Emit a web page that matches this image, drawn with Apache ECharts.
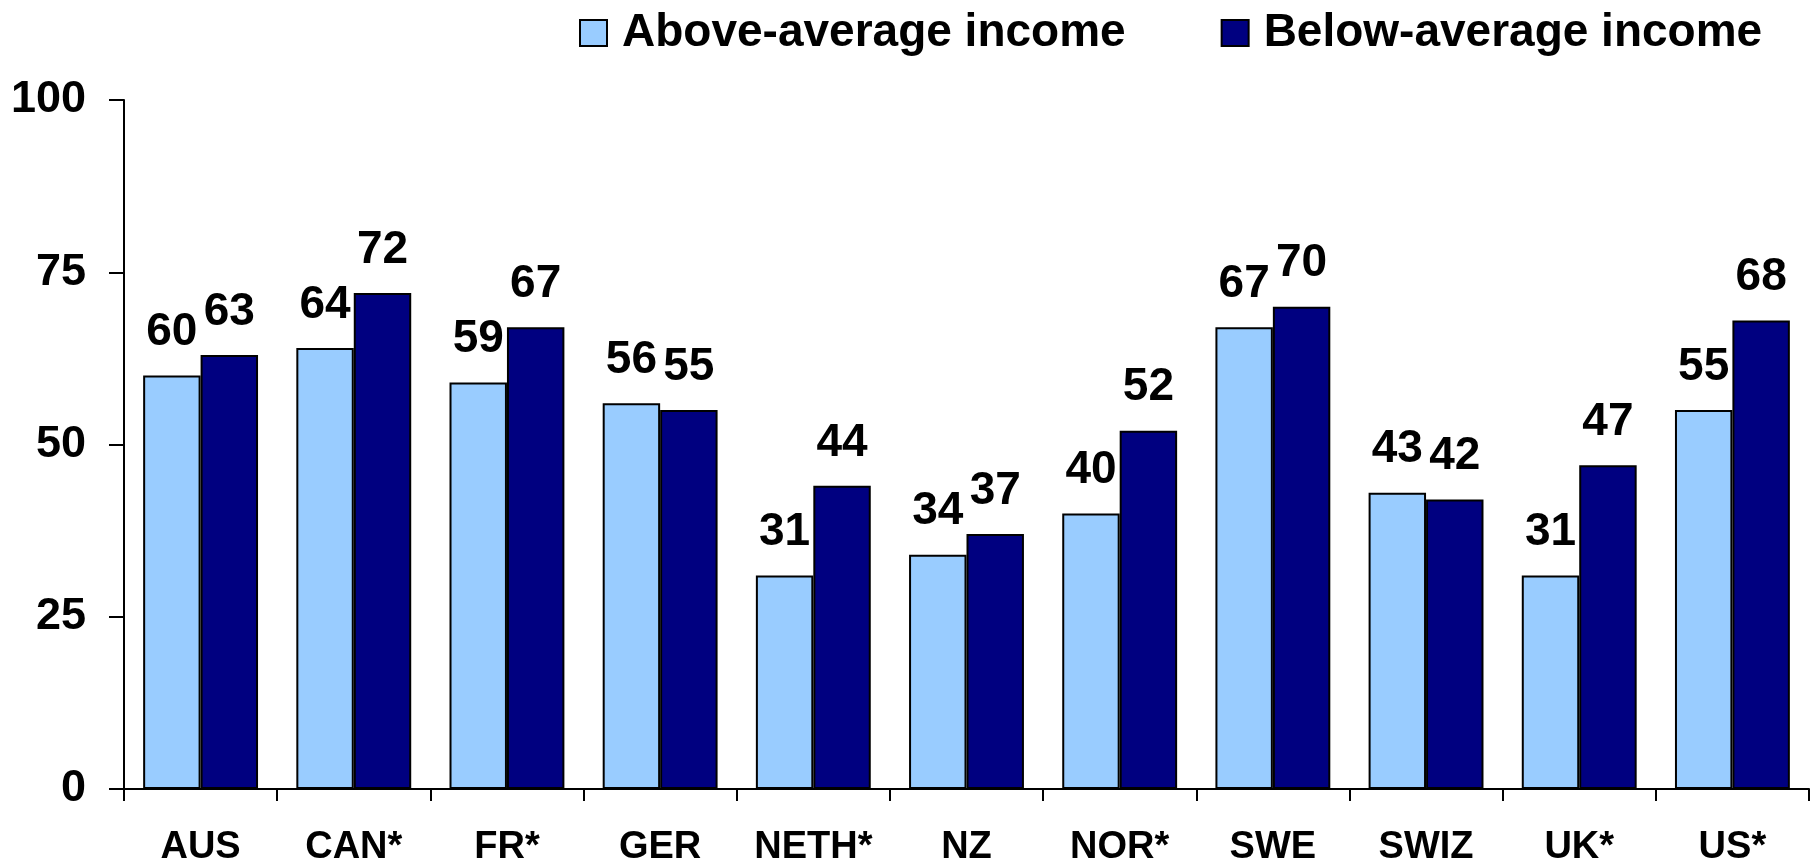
<!DOCTYPE html>
<html>
<head>
<meta charset="utf-8">
<title>Above- vs below-average income by country</title>
<script src="https://cdn.jsdelivr.net/npm/echarts@6/dist/echarts.min.js"></script>
<style>
  html, body { margin: 0; padding: 0; background: #ffffff; }
  #chart { width: 1816px; height: 867px; }
</style>
</head>
<body>
<div id="chart"></div>
<script>
// Countries along the x axis
const countries = ['AUS', 'CAN*', 'FR*', 'GER', 'NETH*', 'NZ', 'NOR*', 'SWE', 'SWIZ', 'UK*', 'US*'];

// Percentages per income group
const aboveAverage = [60, 64, 59, 56, 31, 34, 40, 67, 43, 31, 55];
const belowAverage = [63, 72, 67, 55, 44, 37, 52, 70, 42, 47, 68];

// Value axis
const yMin = 0;
const yMax = 100;
const yStep = 25;

const FONT = '"Liberation Sans", Arial, Helvetica, sans-serif';

const chart = echarts.init(document.getElementById('chart'), null, { renderer: 'canvas' });

const labelStyle = {
  show: true,
  position: 'top',
  distance: 20,
  color: '#000000',
  fontFamily: FONT,
  fontWeight: 'bold',
  fontSize: 46
};

chart.setOption({
  animation: false,
  backgroundColor: '#ffffff',
  legend: {
    left: 574,
    top: 5,
    icon: 'rect',
    itemWidth: 27,
    itemHeight: 26,
    itemGap: 95,
    textStyle: {
      fontFamily: FONT,
      fontWeight: 'bold',
      fontSize: 46,
      color: '#000000',
      padding: [0, 0, 0, 10]
    },
    data: ['Above-average income', 'Below-average income']
  },
  grid: {
    left: 124,
    right: 7,
    top: 100,
    bottom: 76,
    containLabel: false
  },
  xAxis: {
    type: 'category',
    data: countries,
    axisLine: { show: true, lineStyle: { color: '#000000', width: 2 } },
    axisTick: { show: true, interval: 0, length: 12, lineStyle: { color: '#000000', width: 2 } },
    axisLabel: {
      interval: 0,
      margin: 40,
      color: '#000000',
      fontFamily: FONT,
      fontWeight: 'bold',
      fontSize: 38
    },
    splitLine: { show: false }
  },
  yAxis: {
    type: 'value',
    min: yMin,
    max: yMax,
    interval: yStep,
    axisLine: { show: true, lineStyle: { color: '#000000', width: 2 } },
    axisTick: { show: true, length: 15, inside: false, lineStyle: { color: '#000000', width: 2 } },
    axisLabel: {
      margin: 38,
      color: '#000000',
      fontFamily: FONT,
      fontWeight: 'bold',
      fontSize: 45
    },
    splitLine: { show: false }
  },
  series: [
    {
      name: 'Above-average income',
      type: 'bar',
      data: aboveAverage,
      barGap: '0%',
      barCategoryGap: '25%',
      itemStyle: { color: '#99CCFF', borderColor: '#000000', borderWidth: 2 },
      label: labelStyle
    },
    {
      name: 'Below-average income',
      type: 'bar',
      data: belowAverage,
      barGap: '0%',
      barCategoryGap: '25%',
      itemStyle: { color: '#000080', borderColor: '#000000', borderWidth: 2 },
      label: labelStyle
    }
  ]
});
</script>
</body>
</html>
